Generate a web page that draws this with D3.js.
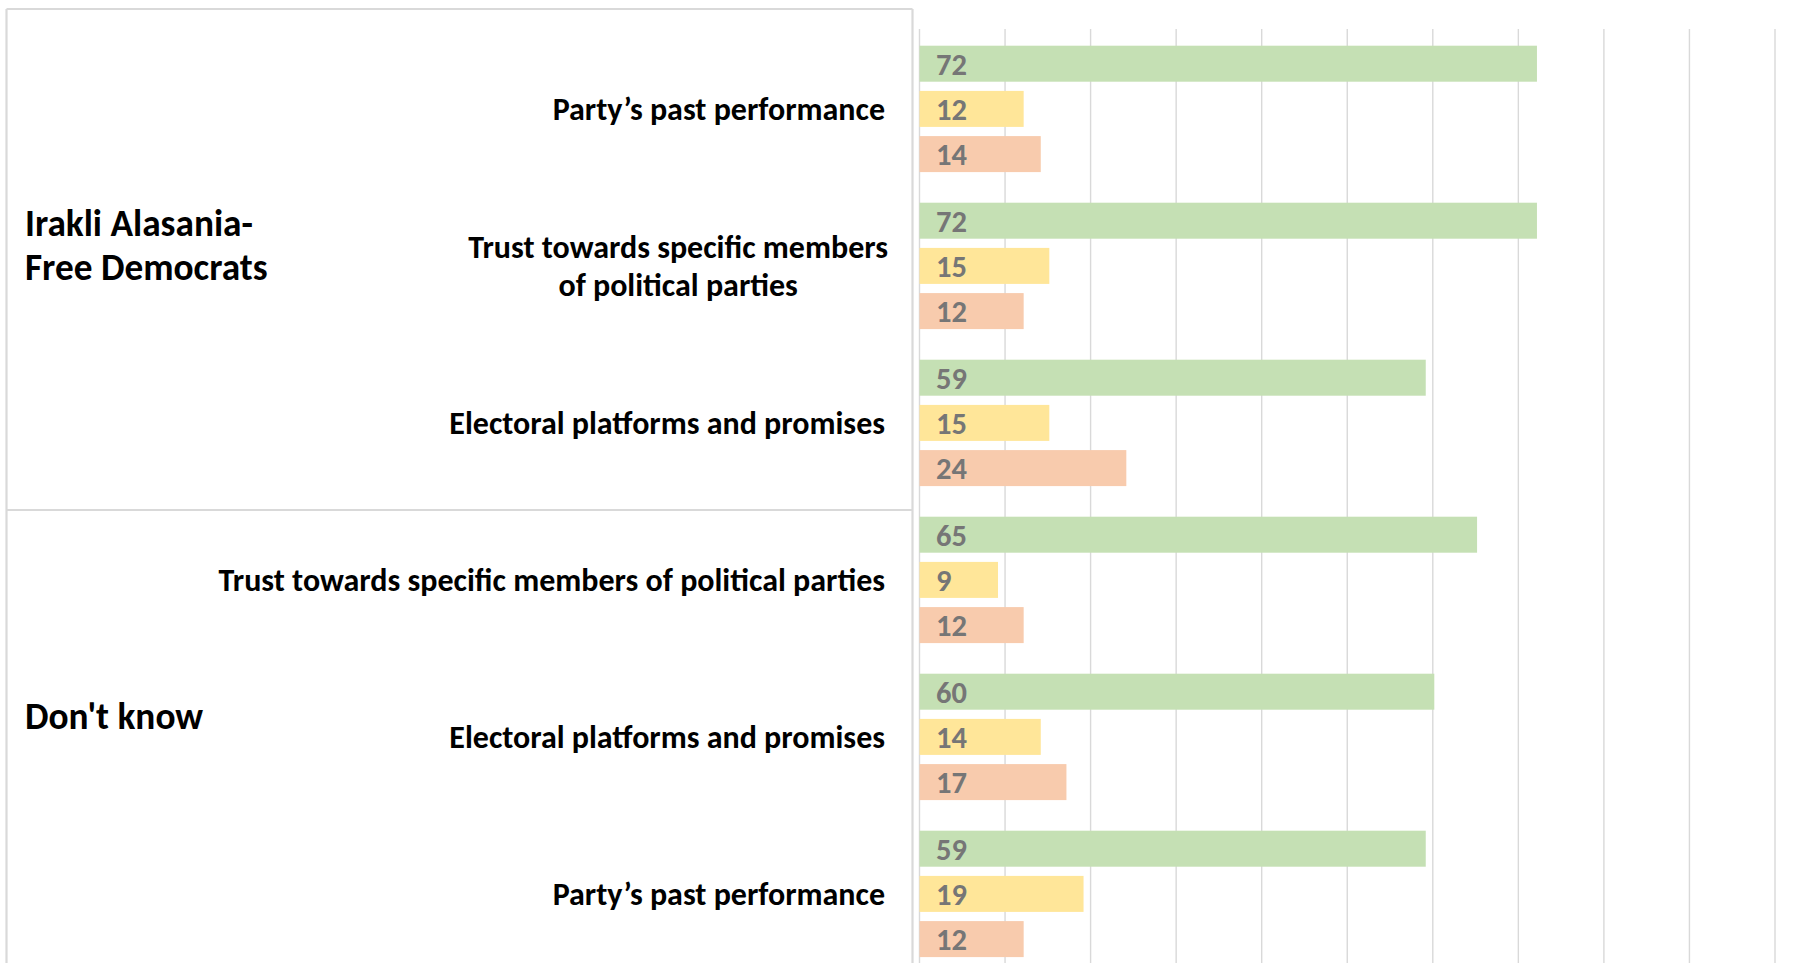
<!DOCTYPE html>
<html>
<head>
<meta charset="utf-8">
<script src="https://cdn.jsdelivr.net/npm/d3@7"></script>
<style>
  html, body { margin: 0; padding: 0; background: #ffffff; overflow: hidden; }
  svg { display: block; }
  text { font-family: Carlito, Calibri, Lato, "Open Sans", sans-serif; font-weight: bold; }
</style>
</head>
<body>
<svg id="chart" width="1808" height="963"></svg>
<script>
// ---- data ----
const partyLabels = [["Irakli Alasania-", "Free Democrats"], ["Don't know"]];
const factorLabels = [
  ["Party’s past performance"],
  ["Trust towards specific members", "of political parties"],
  ["Electoral platforms and promises"],
  ["Trust towards specific members of political parties"],
  ["Electoral platforms and promises"],
  ["Party’s past performance"]
];
const factorParty = [0, 0, 0, 1, 1, 1];
const seriesNames = ["Series 1", "Series 2", "Series 3"];
const series1 = [72, 72, 59, 65, 60, 59];
const series2 = [12, 15, 15, 9, 14, 19];
const series3 = [14, 12, 24, 12, 17, 12];
const xTicks = [0, 10, 20, 30, 40, 50, 60, 70, 80, 90, 100];

// ---- styles ----
const colors = ["#C5E0B4", "#FFE699", "#F8CBAD"];
const gridColor = "#d9d9d9";
const labelColor = "#767676";

const svg = d3.select("#chart");
const W = 1808, H = 963;

const plotLeft = 919, plotRight = 1774.5, plotTop = 30.4, groupStep = 157;
const rows = factorLabels.map((f, i) => i);

const x = d3.scaleLinear().domain([0, 100]).range([plotLeft, plotRight]);
const y = d3.scaleBand().domain(rows).range([plotTop, plotTop + groupStep * rows.length]).padding(0);
const ySub = d3.scaleBand().domain(seriesNames).range([0, y.bandwidth()])
  .paddingInner(0.2035).paddingOuter(0.3385);

// ---- table lines (left label area) ----
const tableLeft = 6.5, tableRight = 912.5, tableTop = 9;
const lines = svg.append("g").attr("stroke", "#d9d9d9").attr("stroke-width", 2.2).attr("fill", "none");
lines.append("line").attr("x1", tableLeft).attr("x2", tableRight).attr("y1", tableTop).attr("y2", tableTop);
lines.append("line").attr("x1", tableLeft).attr("x2", tableLeft).attr("y1", tableTop).attr("y2", H + 5);
lines.append("line").attr("x1", tableRight).attr("x2", tableRight).attr("y1", tableTop).attr("y2", H + 5);
// divider between party groups
const partyIdx = d3.range(partyLabels.length);
partyIdx.slice(1).forEach(p => {
  const firstRow = factorParty.indexOf(p);
  const yy = y(firstRow) + 8.6;
  lines.append("line").attr("x1", tableLeft).attr("x2", tableRight).attr("y1", yy).attr("y2", yy);
});

// ---- gridlines ----
const gridBottom = plotTop + groupStep * rows.length;
svg.append("g")
  .attr("transform", `translate(0,${gridBottom})`)
  .call(d3.axisBottom(x).tickValues(xTicks).tickSize(-(gridBottom - (plotTop - 1.4))).tickFormat(""))
  .call(g => g.select(".domain").remove())
  .call(g => g.selectAll(".tick line").attr("stroke", gridColor).attr("stroke-width", 1.4));

// ---- bars ----
const barData = [];
rows.forEach(r => {
  [series1, series2, series3].forEach((s, k) => {
    barData.push({ row: r, series: seriesNames[k], k, value: s[r] });
  });
});

const bars = svg.append("g");
bars.selectAll("rect").data(barData).join("rect")
  .attr("x", x(0) + 0.5)
  .attr("y", d => y(d.row) + ySub(d.series))
  .attr("width", d => x(d.value) - x(0) + 1.5)
  .attr("height", ySub.bandwidth())
  .attr("fill", d => colors[d.k]);

// ---- data labels ----
svg.append("g").selectAll("text").data(barData).join("text")
  .attr("x", x(0) + 17)
  .attr("y", d => y(d.row) + ySub(d.series) + ySub.bandwidth() / 2)
  .attr("dy", "0.36em")
  .attr("fill", labelColor)
  .attr("font-size", 30.5)
  .text(d => d.value);

// ---- category (factor) labels ----
const catRight = 885;
const catSize = 32;
const lineGap = 38;
const cat = svg.append("g");
rows.forEach(r => {
  const ls = factorLabels[r];
  const cy = y(r) + y.bandwidth() / 2;
  const g = cat.append("g");
  const texts = ls.map((t, i) => g.append("text")
    .attr("font-size", catSize)
    .attr("fill", "#000")
    .attr("y", cy + (i - (ls.length - 1) / 2) * lineGap)
    .attr("dy", "0.35em")
    .text(t));
  if (ls.length === 1) {
    texts[0].attr("x", catRight).attr("text-anchor", "end");
  } else {
    const maxW = d3.max(texts, t => t.node().getComputedTextLength());
    texts.forEach(t => t.attr("x", catRight + 3 - maxW / 2).attr("text-anchor", "middle"));
  }
});

// ---- party labels ----
const partyGap = 44;
partyIdx.forEach(p => {
  const rs = rows.filter(r => factorParty[r] === p);
  const top = y(rs[0]);
  const bottom = y(rs[rs.length - 1]) + y.bandwidth();
  const cy = (top + bottom) / 2 - 21;
  const ls = partyLabels[p];
  ls.forEach((t, i) => {
    svg.append("text")
      .attr("x", 25)
      .attr("y", cy + (i - (ls.length - 1) / 2) * partyGap)
      .attr("dy", "0.35em")
      .attr("font-size", 37.3)
      .attr("fill", "#000")
      .text(t);
  });
});
</script>
</body>
</html>
